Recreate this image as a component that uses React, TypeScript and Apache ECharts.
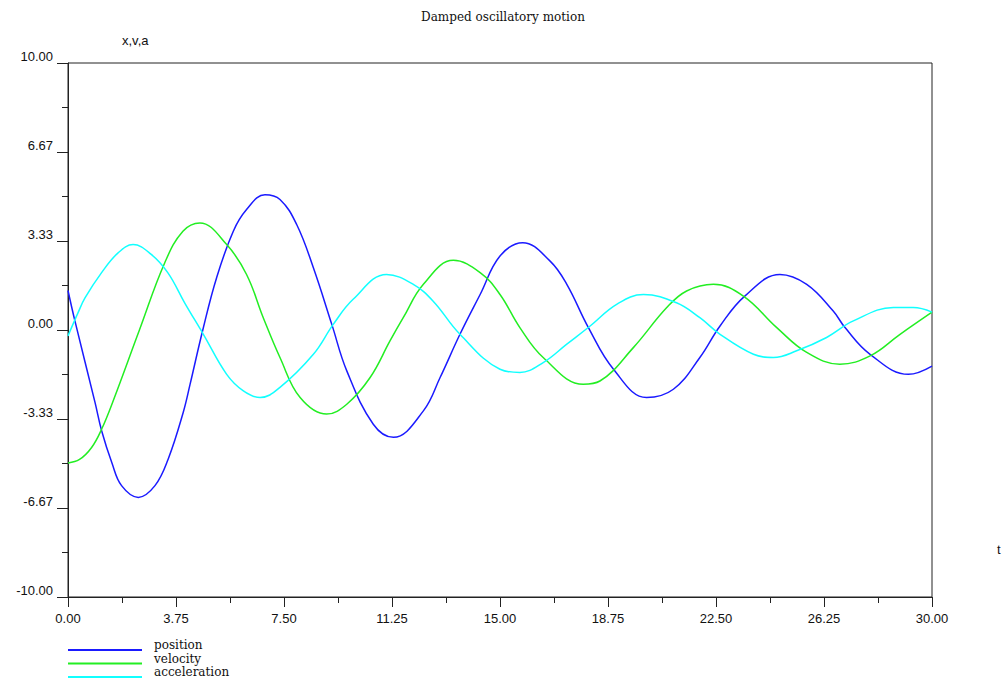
import React, { useEffect, useRef } from "react";
import * as echarts from "echarts";

const chartTitle = "Damped oscillatory motion";
const seriesNames = ["position", "velocity", "acceleration"];
const seriesColors = ["#1a1aff", "#22ee22", "#11ffff"];

const positionT = [0, 0.24, 0.94, 1.17, 1.52, 1.86, 2.44, 3.02, 3.48, 4.0, 4.24, 4.68, 5.16, 5.74, 6.2, 6.84, 7.36, 7.94, 8.52, 9.16, 9.68, 10.6, 11.3, 12.34, 12.92, 13.61, 14.31, 15.0, 15.79, 16.74, 17.32, 18.07, 18.94, 20.09, 21.02, 21.94, 22.64, 23.5, 24.72, 25.65, 26.57, 26.98, 27.85, 29.18, 30];
const positionV = [1.48, 0.34, -2.72, -3.78, -4.96, -5.83, -6.27, -5.83, -4.83, -3.09, -2.03, 0, 1.96, 3.7, 4.51, 5.07, 4.89, 3.95, 2.33, 0.21, -1.53, -3.53, -4.02, -3.03, -1.78, -0.16, 1.33, 2.77, 3.27, 2.58, 1.71, 0.09, -1.47, -2.53, -2.22, -1.03, 0.15, 1.27, 2.08, 1.71, 0.71, 0.09, -0.91, -1.66, -1.35];

const velocityT = [0, 0.4, 0.82, 1.17, 1.57, 2.48, 3.36, 3.99, 4.58, 5.51, 6.2, 6.78, 7.36, 8.06, 8.98, 9.68, 10.49, 11.18, 11.64, 12.34, 13.38, 14.31, 15.0, 15.69, 16.5, 17.89, 18.47, 19.63, 20.79, 21.48, 22.41, 23.45, 24.61, 25.65, 26.8, 27.85, 28.89, 30];
const velocityV = [-4.98, -4.85, -4.4, -3.71, -2.65, 0, 2.52, 3.7, 4.01, 3.2, 2.08, 0.46, -1.03, -2.53, -3.15, -2.78, -1.78, -0.41, 0.46, 1.71, 2.61, 2.15, 1.33, 0.09, -1.03, -2.03, -1.91, -0.66, 0.84, 1.46, 1.71, 1.27, 0.09, -0.84, -1.28, -0.97, -0.16, 0.67];

const accelerationT = [0, 0.35, 0.59, 1.16, 1.74, 2.26, 2.89, 3.47, 4.05, 4.7, 5.51, 6.09, 6.67, 7.36, 8.52, 9.21, 9.9, 11.06, 11.99, 12.68, 13.61, 15.0, 15.69, 16.5, 17.32, 18.13, 19.05, 19.98, 21.13, 21.94, 22.64, 23.8, 24.49, 25.3, 26.34, 27.27, 28.66, 29.35, 30];
const accelerationV = [-0.22, 0.65, 1.2, 2.14, 2.89, 3.2, 2.83, 2.14, 1.02, -0.16, -1.66, -2.28, -2.53, -2.15, -0.91, 0.21, 1.15, 2.08, 1.71, 1.08, -0.16, -1.47, -1.59, -1.22, -0.53, 0.15, 0.96, 1.33, 1.02, 0.46, -0.16, -0.91, -1.03, -0.78, -0.28, 0.34, 0.84, 0.84, 0.67];

const xMin = 0, xMax = 30, xInterval = 3.75;
const yMin = -10, yMax = 10, yInterval = 20 / 6;

const pair = (ts: number[], vs: number[]) => ts.map((t, i) => [t, vs[i]]);

const axisColor = "#222";
const labelFont = "Liberation Sans";
const decoFont = "DejaVu Serif";

export default function App() {
  const ref = useRef<HTMLDivElement>(null);
  useEffect(() => {
    if (!ref.current) return;
    const chart = echarts.init(ref.current, undefined, { renderer: "svg" });
    const allData = [
      pair(positionT, positionV),
      pair(velocityT, velocityV),
      pair(accelerationT, accelerationV),
    ];
    const legendItems: any[] = [];
    seriesNames.forEach((name, i) => {
      const ly = 650 + i * 13.5;
      legendItems.push({
        type: "line",
        shape: { x1: 68, y1: ly, x2: 142, y2: ly },
        style: { stroke: seriesColors[i], lineWidth: 2 },
      });
      legendItems.push({
        type: "text",
        x: 154,
        y: ly - 5,
        style: {
          text: name,
          fontFamily: decoFont,
          fontSize: 12,
          fill: "#111",
          verticalAlign: "middle",
        },
      });
    });
    chart.setOption({
      animation: false,
      backgroundColor: "#fff",
      title: {
        text: chartTitle,
        left: "center",
        top: 6,
        textStyle: { fontFamily: decoFont, fontSize: 12, fontWeight: "normal", color: "#111" },
      },
      grid: {
        left: 68,
        right: 74,
        top: 63,
        bottom: 83,
        show: true,
        borderColor: axisColor,
        borderWidth: 1,
        backgroundColor: "transparent",
      },
      xAxis: {
        type: "value",
        min: xMin,
        max: xMax,
        interval: xInterval,
        axisLine: { show: true, onZero: false, lineStyle: { color: axisColor, width: 1 } },
        axisTick: { show: true, inside: false, length: 10, lineStyle: { color: axisColor } },
        minorTick: { show: true, splitNumber: 2, length: 6, lineStyle: { color: axisColor } },
        splitLine: { show: false },
        minorSplitLine: { show: false },
        axisLabel: {
          margin: 15,
          fontFamily: labelFont,
          fontSize: 13,
          color: "#111",
          formatter: (v: number) => v.toFixed(2),
        },
      },
      yAxis: {
        type: "value",
        min: yMin,
        max: yMax,
        interval: yInterval,
        axisLine: { show: true, onZero: false, lineStyle: { color: axisColor, width: 1 } },
        axisTick: { show: true, inside: false, length: 11, lineStyle: { color: axisColor } },
        minorTick: { show: true, splitNumber: 2, length: 6, lineStyle: { color: axisColor } },
        splitLine: { show: false },
        minorSplitLine: { show: false },
        axisLabel: {
          margin: 15,
          fontFamily: labelFont,
          fontSize: 13,
          color: "#111",
          verticalAlign: "bottom",
          formatter: (v: number) => v.toFixed(2),
        },
      },
      graphic: [
        {
          type: "text",
          left: 122,
          top: 34,
          style: { text: "x,v,a", fontFamily: labelFont, fontSize: 13, fill: "#111" },
        },
        {
          type: "text",
          left: 997,
          top: 543,
          style: { text: "t", fontFamily: labelFont, fontSize: 13, fill: "#111" },
        },
        ...legendItems,
      ],
      series: seriesNames.map((name, i) => ({
        name,
        type: "line",
        data: allData[i],
        smooth: 0.4,
        symbol: "none",
        color: seriesColors[i],
        lineStyle: { color: seriesColors[i], width: 1.5 },
      })),
    });
    return () => chart.dispose();
  }, []);
  return (
    <div
      ref={ref}
      style={{ position: "absolute", left: 0, top: 0, width: 1006, height: 680 }}
    />
  );
}
